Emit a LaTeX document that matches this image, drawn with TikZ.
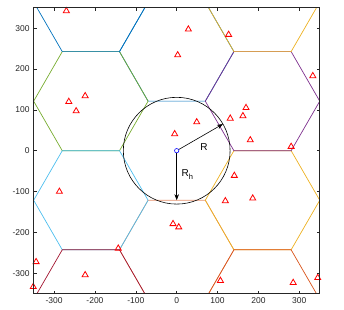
\documentclass[tikz,border=0pt]{standalone}
\usepackage{fontspec}
\setmainfont{Liberation Sans}
\usetikzlibrary{arrows.meta,shapes.geometric}
\definecolor{hexblue}{HTML}{0072BD}
\definecolor{hexorange}{HTML}{D95319}
\definecolor{hexyellow}{HTML}{EDB120}
\definecolor{hexpurple}{HTML}{7E2F8E}
\definecolor{hexgreen}{HTML}{77AC30}
\definecolor{hexcyan}{HTML}{4DBEEE}
\definecolor{hexred}{HTML}{A2142F}
\definecolor{axisgray}{HTML}{262626}
\begin{document}
\begin{tikzpicture}[x=0.4087pt,y=0.4087pt,
  cell/.style={line width=0.7pt},
  ue/.style={regular polygon,regular polygon sides=3,draw=red,line width=0.8pt,
    minimum size=7pt,inner sep=0pt},
  tick/.style={axisgray,line width=0.5pt},
  ticklabel/.style={font=\fontsize{8.5}{9}\selectfont,text=axisgray,inner sep=1pt},
  radius arrow/.style={-{Stealth[length=6pt,width=4.5pt]},line width=0.6pt},
  radlabel/.style={font=\fontsize{10}{12}\selectfont}]
\useasboundingbox (-176.7pt,-158.3pt) rectangle (167.3pt,150.7pt);
% hexagonal cells, R = 140
\begin{scope}
\clip (-350,-350) rectangle (350,350);
\foreach \cx/\cy/\col in {0/242.5/hexblue, 0/-242.5/hexorange!65,
    210/-121.2/hexyellow, 210/121.2/hexpurple, 210/363.7/hexyellow,
    210/-363.7/hexorange, -210/121.2/hexgreen, -210/363.7/hexblue,
    -210/-121.2/hexcyan, -210/-363.7/hexred}
  \draw[cell,\col,shift={(\cx,\cy)}] (0:140) -- (60:140) -- (120:140)
    -- (180:140) -- (240:140) -- (300:140) -- cycle;
\end{scope}
\draw[line width=0.6pt] (0,0) circle[radius=130.6];
% base station and radii
\node[draw=blue,circle,inner sep=0pt,minimum size=4.4pt,line width=0.6pt] (bs) at (0,0) {};
\coordinate (redge) at (30:130.6);
\coordinate (hedge) at (0,-121.2);
\draw[radius arrow] (bs) -- (redge);
\draw[radius arrow] (bs) -- (hedge);
\node[radlabel] (rlab) at (67,8) {R};
\node[radlabel] (rhlab) at (26,-59) {R\raisebox{-3pt}{\fontsize{7.5}{8}\selectfont h}};
% users
\foreach \ux/\uy [count=\i] in {-270/342, -264/120, -224/134, -246/97, 28.5/297,
    127/284, 2.4/234, 333/183, 169.6/105, 162/85, 131/79, 49/70, -5/41, 180/26,
    280/10, 141/-61, 119/-123, 186/-116.5, -9/-179, 5/-187, 107/-318, 285/-323,
    345/-311, -287/-100, -344/-272, -351/-333, -224/-304, -143/-239}
  \node[ue] (u\i) at (\ux,\uy) {};
% axes
\draw[axisgray,line width=0.6pt] (-350,-350) rectangle (350,350);
\foreach \t [count=\i] in {-300,-200,...,300} {
  \draw[tick] (\t,-350) -- ++(0,7);
  \draw[tick] (\t,350) -- ++(0,-7);
  \draw[tick] (-350,\t) -- ++(7,0);
  \draw[tick] (350,\t) -- ++(-7,0);
  \node[ticklabel,anchor=north] (xt\i) at (\t,-357) {\t};
  \node[ticklabel,anchor=east] (yt\i) at (-357,\t) {\t};
}
\end{tikzpicture}
\end{document}
